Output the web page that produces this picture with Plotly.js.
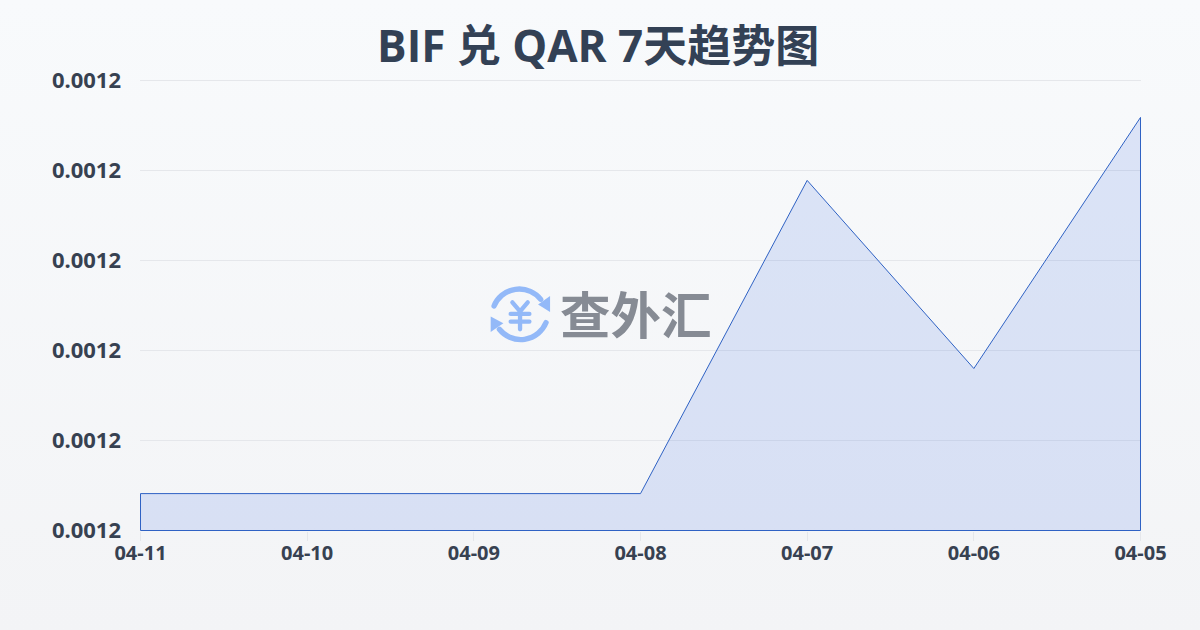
<!DOCTYPE html>
<html>
<head>
<meta charset="utf-8">
<script src="https://cdn.plot.ly/plotly-3.0.1.min.js"></script>
<style>
html,body{margin:0;padding:0;width:1200px;height:630px;overflow:hidden;background:linear-gradient(180deg,#f8fafc 0%,#f3f4f6 100%);}
#chart{width:1200px;height:630px;}
</style>
</head>
<body>
<div id="chart"></div>
<script>
const categories = ["04-11","04-10","04-09","04-08","04-07","04-06","04-05"];
const values = [0.00120041,0.00120041,0.00120041,0.00120041,0.00120389,0.0012018,0.00120459];
const yTicks = [0.0012,0.001201,0.001202,0.001203,0.001204,0.001205];
const yBase = 0.0012;
const yRange = [0.0011999944,0.00120502778];
const xRange = [-0.003,6.003];
const titleText = "BIF 兑 QAR 7天趋势图";
const watermarkText = "查外汇";
const FONT = '"Noto Sans","Noto Sans CJK SC",sans-serif';
const TITLE_FONT = '"Open Sans","Noto Sans CJK SC",sans-serif';
const TXT = "#374151";

const icon = `<svg xmlns="http://www.w3.org/2000/svg" width="200" height="190" viewBox="50 40 200 190">
<g fill="none" stroke="#93b9f8" stroke-width="16" stroke-linecap="round" stroke-linejoin="round">
<path d="M72 108 A82 82 0 0 1 212 88"/><path d="M228 158 A82 82 0 0 1 88 178"/></g>
<g fill="none" stroke="#93b9f8" stroke-width="13" stroke-linecap="round" stroke-linejoin="round">
<path d="M127 97 L150 124 L173 97 M150 124 V178 M122 132 H178 M122 155 H178"/></g>
<g fill="#93b9f8"><path d="M240 78 V126 L204 104 Z"/><path d="M62 140 V186 L100 160 Z"/></g></svg>`;

const xs = categories.concat([categories[6],categories[0],categories[0]]);
const ys = values.concat([yBase,yBase,values[0]]);

const pxL = 140, pxT = 78, pxW = 1001, pxH = 453;

Plotly.newPlot("chart",[{
  type:"scatter",mode:"lines",x:xs,y:ys,fill:"toself",
  fillcolor:"rgba(37,90,225,0.135)",
  line:{color:"#2f62c4",width:1,shape:"linear"},
  cliponaxis:false,hoverinfo:"skip"
}],{
  width:1200,height:630,
  paper_bgcolor:"rgba(0,0,0,0)",plot_bgcolor:"rgba(0,0,0,0)",
  margin:{l:pxL,r:1200-pxL-pxW,t:pxT,b:630-pxT-pxH},
  showlegend:false,
  font:{family:FONT,color:TXT},
  title:{text:"<b>"+titleText+"</b>",font:{family:TITLE_FONT,size:44,color:"#334155"},x:0.4985,xanchor:"center",y:0.9265,yanchor:"middle"},
  xaxis:{type:"category",categoryorder:"array",categoryarray:categories,range:xRange,
    showgrid:false,zeroline:false,showline:false,ticks:"outside",ticklen:9,tickwidth:1,tickcolor:"#e5e7eb",ticklabelstandoff:-5,
    tickfont:{family:FONT,size:20,color:TXT,weight:700}},
  yaxis:{range:yRange,tickmode:"array",tickvals:yTicks,ticktext:yTicks.map(v=>v.toFixed(4)),
    showgrid:true,gridcolor:"#e5e7eb",gridwidth:1,zeroline:false,showline:false,ticks:"",ticklabelstandoff:18,ticklabelshift:-2.5,
    tickfont:{family:FONT,size:22,color:TXT,weight:700}},
  annotations:[{xref:"paper",yref:"paper",x:(636-pxL)/pxW,y:(pxT+pxH-312)/pxH,xanchor:"center",yanchor:"middle",
    text:"<b>"+watermarkText+"</b>",showarrow:false,font:{family:'"Noto Sans CJK SC",sans-serif',size:50.5,color:"#868b94"}}],
  images:[{source:"data:image/svg+xml;charset=utf-8,"+encodeURIComponent(icon),xref:"paper",yref:"paper",
    x:(486.7-pxL)/pxW,y:(pxT+pxH-283.3)/pxH,sizex:66.7/pxW,sizey:63.3/pxH,xanchor:"left",yanchor:"top",layer:"above",sizing:"stretch"}]
},{staticPlot:true,displayModeBar:false});
</script>
</body>
</html>
